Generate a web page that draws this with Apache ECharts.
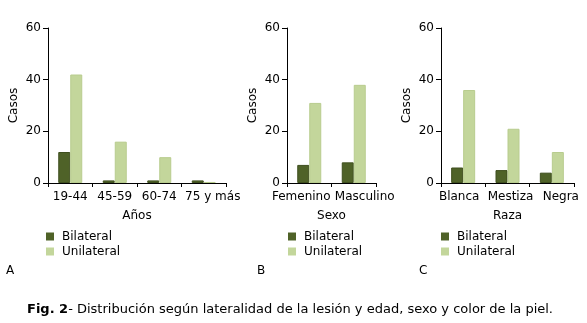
<!DOCTYPE html>
<html>
<head>
<meta charset="utf-8">
<script src="https://cdn.jsdelivr.net/npm/echarts@6/dist/echarts.min.js"></script>
<style>
html,body{margin:0;padding:0;background:#fff;}
#c{width:587px;height:323px;}
</style>
</head>
<body>
<div id="c"></div>
<script>
// Data
const catsA = ['19-44', '45-59', '60-74', '75 y más'];
const bilateralA = [12, 1, 1, 1];
const unilateralA = [42, 16, 10, 0.4];

const catsB = ['Femenino', 'Masculino'];
const bilateralB = [7, 8];
const unilateralB = [31, 38];

const catsC = ['Blanca', 'Mestiza', 'Negra'];
const bilateralC = [6, 5, 4];
const unilateralC = [36, 21, 12];

const axisNames = ['Años', 'Sexo', 'Raza'];
const yTicks = { min: 0, max: 60, interval: 20 };
const seriesNames = ['Bilateral', 'Unilateral'];
const panelLetters = ['A', 'B', 'C'];

// Styling / layout (not data)
const FONT = 'DejaVu Sans';
const DARK = '#4f6228';
const LIGHT = '#c3d69b';
// horizontal label shifts (px) to spread crowded labels like the original
const labelShifts = [[0, 0, 0, 9], [-8, 11], [-4, 3, 9]];

const grids = [
  { left: 48, top: 28, width: 178, height: 155 },
  { left: 287, top: 28, width: 89, height: 155 },
  { left: 441, top: 28, width: 133, height: 155 }
];
const cats = [catsA, catsB, catsC];
const bil = [bilateralA, bilateralB, bilateralC];
const uni = [unilateralA, unilateralB, unilateralC];

const xAxes = [], yAxes = [], series = [], legends = [];
grids.forEach((g, i) => {
  const rich = {};
  labelShifts[i].forEach((s, k) => {
    rich['s' + k] = {
      color: '#000', fontFamily: FONT, fontSize: 12,
      padding: s >= 0 ? [0, 0, 0, 2 * s] : [0, -2 * s, 0, 0]
    };
  });
  xAxes.push({
    type: 'category', gridIndex: i, data: cats[i],
    name: axisNames[i], nameLocation: 'middle', nameGap: 27,
    nameTextStyle: { color: '#000', fontFamily: FONT, fontSize: 12 },
    axisLine: { lineStyle: { color: '#000', width: 1 } },
    axisTick: { show: true, length: 4, lineStyle: { color: '#000' } },
    axisLabel: {
      color: '#000', fontFamily: FONT, fontSize: 12, margin: 8, interval: 0,
      hideOverlap: false,
      formatter: (v, idx) => '{s' + idx + '|' + v + '}',
      rich: rich
    },
    splitLine: { show: false }
  });
  yAxes.push({
    type: 'value', gridIndex: i, min: yTicks.min, max: yTicks.max, interval: yTicks.interval,
    name: 'Casos', nameLocation: 'middle', nameGap: 28, nameRotate: 90,
    nameTextStyle: { color: '#000', fontFamily: FONT, fontSize: 12 },
    axisLine: { show: true, lineStyle: { color: '#000', width: 1 } },
    axisTick: { show: true, length: 5, lineStyle: { color: '#000' } },
    axisLabel: { color: '#000', fontFamily: FONT, fontSize: 12, margin: 7 },
    splitLine: { show: false }
  });
  series.push({
    name: seriesNames[0], type: 'bar', xAxisIndex: i, yAxisIndex: i,
    data: bil[i], barWidth: 12, barGap: '0%',
    itemStyle: { color: DARK, borderColor: '#3f4f1f', borderWidth: 1 },
    emphasis: { disabled: true }
  });
  series.push({
    name: seriesNames[1], type: 'bar', xAxisIndex: i, yAxisIndex: i,
    data: uni[i], barWidth: 12, barGap: '0%',
    itemStyle: { color: LIGHT, borderColor: '#b8cc8e', borderWidth: 1 },
    emphasis: { disabled: true }
  });
});

const legendLefts = [46, 288, 441];
legendLefts.forEach((l) => {
  legends.push({
    orient: 'vertical', left: l, top: 229, padding: 0,
    itemWidth: 8, itemHeight: 8, itemGap: 0,
    icon: 'rect', selectedMode: false,
    data: seriesNames,
    itemStyle: { borderWidth: 0 },
    textStyle: { color: '#000', fontFamily: FONT, fontSize: 12, lineHeight: 15, padding: [0, 0, 0, 3] }
  });
});

const letterPos = [[6, 265], [257, 265], [419, 265]];
const graphic = panelLetters.map((t, i) => ({
  type: 'text', left: letterPos[i][0], top: letterPos[i][1],
  style: { text: t, fill: '#000', font: '12px "DejaVu Sans"' }
}));
graphic.push({
  type: 'text', left: 27, top: 303,
  style: {
    text: '{b|Fig. 2}- Distribución según lateralidad de la lesión y edad, sexo y color de la piel.',
    fill: '#000', font: '13px "DejaVu Sans"',
    rich: { b: { fontWeight: 'bold', fontFamily: FONT, fontSize: 13, fill: '#000' } }
  }
});

const chart = echarts.init(document.getElementById('c'), null, { renderer: 'canvas' });
chart.setOption({
  backgroundColor: '#fff',
  animation: false,
  color: [DARK, LIGHT],
  grid: grids,
  xAxis: xAxes,
  yAxis: yAxes,
  series: series,
  legend: legends,
  graphic: graphic
});
</script>
</body>
</html>
